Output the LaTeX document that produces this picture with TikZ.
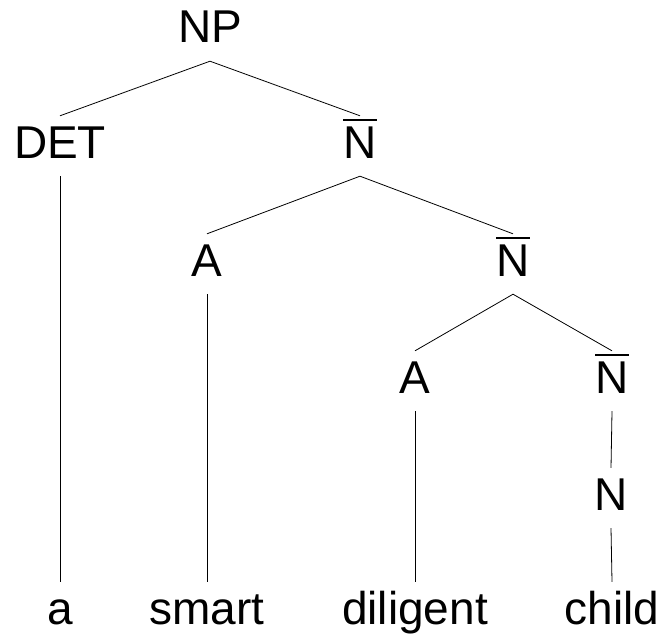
\documentclass[tikz,border=0pt]{standalone}
\usepackage{fontspec}
\setmainfont{Liberation Sans}
\newcommand{\barN}{{\setbox0\hbox{N}\rlap{\raisebox{37pt}{\rule{\wd0}{2.4pt}}}N}}
\begin{document}
\begin{tikzpicture}[x=1pt,y=-1pt,
  lab/.style={inner sep=0pt, anchor=base, text height=42pt, text depth=18pt,
              font=\fontsize{46}{50}\selectfont},
  edge/.style={line width=0.8pt}]
\useasboundingbox (0,0) rectangle (660,634);
% nodes (positions at baselines)
\node[lab] (np)   at (210,43)  {NP};
\node[lab] (det)  at (60,158)  {DET};
\node[lab] (nb1)  at (360,158) {\barN};
\node[lab] (a1)   at (207,276) {A};
\node[lab] (nb2)  at (513,276) {\barN};
\node[lab] (a2)   at (415,393) {A};
\node[lab] (nb3)  at (612,393) {\barN};
\node[lab] (n)    at (611,510) {N};
\node[lab] (wa)   at (60,624)  {a};
\node[lab] (wsm)  at (207,624) {smart};
\node[lab] (wdi)  at (415,624) {diligent};
\node[lab] (wch)  at (612,624) {child};
% connectors
\draw[edge] (det.north) -- (np.south) -- (nb1.north);
\draw[edge] (a1.north) -- (nb1.south) -- (nb2.north);
\draw[edge] (a2.north) -- (nb2.south) -- (nb3.north);
\draw[edge] (nb3.south) -- (n.north);
\draw[edge] (n.south) -- (wch.north);
\draw[edge] (det.south) -- (wa.north);
\draw[edge] (a1.south) -- (wsm.north);
\draw[edge] (a2.south) -- (wdi.north);
\end{tikzpicture}
\end{document}
